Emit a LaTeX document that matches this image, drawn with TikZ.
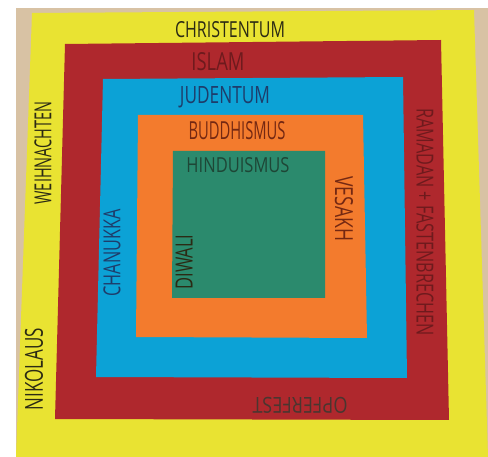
\documentclass[tikz,border=0pt]{standalone}
\usepackage{fontspec}
\usepackage{graphicx}
\setsansfont{Open Sans}
\definecolor{bgbeige}{HTML}{D8C2A4}
\definecolor{boardyellow}{HTML}{E9E332}
\definecolor{boardred}{HTML}{AF282D}
\definecolor{boardblue}{HTML}{0CA2D6}
\definecolor{boardorange}{HTML}{F37B2D}
\definecolor{boardgreen}{HTML}{2B8A6D}
\definecolor{inkdark}{HTML}{2B2A14}
\definecolor{inkred}{HTML}{6E1A1D}
\definecolor{inkblue}{HTML}{1E3C6A}
\definecolor{inkbrown}{HTML}{742812}
\definecolor{inkgreen}{HTML}{1E4636}
\definecolor{inkgrey}{HTML}{4A3630}
\newcommand{\handtxt}[3]{\resizebox{#1pt}{#2pt}{\sffamily #3}}
\tikzset{
  label/.style={inner sep=0pt, outer sep=0pt, anchor=center},
  panel/.style={line width=0pt}
}
\begin{document}
\begin{tikzpicture}[x=1pt,y=-1pt]
\useasboundingbox (0,0) rectangle (488,457);
\fill[white] (0,0) rectangle (488,457);
\fill[bgbeige] (16,8) -- (488,8) -- (488,457) -- (16,457) -- cycle;
% nested boards
\fill[boardyellow] (32,13) -- (474,10) -- (488,457) -- (16,457) -- cycle;
\fill[boardred] (65,44) -- (441,40) -- (449,420) -- (55,419) -- cycle;
\fill[boardblue] (103,79) -- (403,77) -- (407,378) -- (96,377) -- cycle;
\fill[boardorange] (138,115) -- (363,115) -- (367,338) -- (136,337) -- cycle;
\fill[boardgreen] (173,151) -- (325,151) -- (325,298) -- (172,298) -- cycle;
% labels
\node[label, text=inkdark] (christ) at (230,30) {\handtxt{110}{16}{CHRISTENTUM}};
\node[label, text=inkred] (islam) at (218,62) {\handtxt{53}{18}{ISLAM}};
\node[label, text=inkblue] (juden) at (225,97) {\handtxt{90}{17}{JUDENTUM}};
\node[label, text=inkbrown] (buddh) at (237,131) {\handtxt{97}{18}{BUDDHISMUS}};
\node[label, text=inkgreen] (hindu) at (238,165) {\handtxt{103}{15}{HINDUISMUS}};
\node[label, text=inkdark, rotate=90] (diwali) at (184,262) {\handtxt{55}{17}{DIWALI}};
\node[label, text=inkbrown, rotate=-90] (vesakh) at (344,209) {\handtxt{65}{18}{VESAKH}};
\node[label, text=inkblue, rotate=90] (chanukka) at (112,253) {\handtxt{87}{17}{CHANUKKA}};
\node[label, text=inkdark, rotate=90] (weihn) at (43,153) {\handtxt{103}{17}{WEIHNACHTEN}};
\node[label, text=inkdark, rotate=90] (nikolaus) at (34,369) {\handtxt{82}{18}{NIKOLAUS}};
\node[label, text=inkred, rotate=-90] (ramadan) at (425,222) {\handtxt{227}{17}{RAMADAN + FASTENBRECHEN}};
\node[label, text=inkgrey, rotate=180] (opfer) at (300,405) {\handtxt{95}{16}{OPFERFEST}};
\end{tikzpicture}
\end{document}
